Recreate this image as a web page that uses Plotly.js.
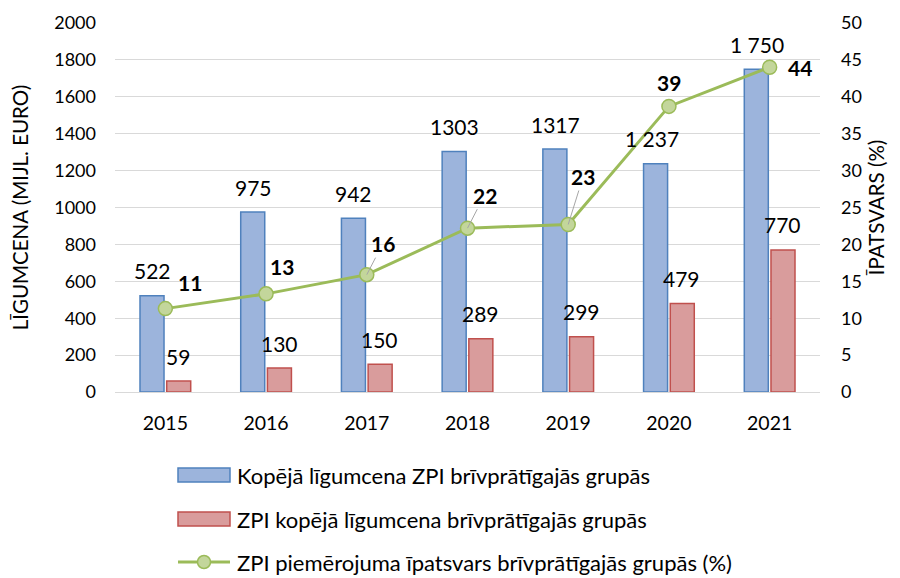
<!DOCTYPE html>
<html>
<head>
<meta charset="utf-8">
<script src="https://cdn.plot.ly/plotly-3.0.1.min.js"></script>
<style>html,body{margin:0;padding:0;background:#fff;}#chart{width:900px;height:578px;}</style>
</head>
<body>
<div id="chart"></div>
<script>
// ---- data ----
const years = ['2015', '2016', '2017', '2018', '2019', '2020', '2021'];
const totalValue = [522, 975, 942, 1303, 1317, 1237, 1750];
const totalLabels = ['522', '975', '942', '1303', '1317', '1 237', '1 750'];
const zpiValue = [59, 130, 150, 289, 299, 479, 770];
const zpiLabels = ['59', '130', '150', '289', '299', '479', '770'];
const sharePct = [11.3, 13.3, 15.9, 22.2, 22.7, 38.7, 44.0];
const shareLabels = ['11', '13', '16', '22', '23', '39', '44'];
const seriesNames = [
  'Kopējā līgumcena ZPI brīvprātīgajās grupās',
  'ZPI kopējā līgumcena brīvprātīgajās grupās',
  'ZPI piemērojuma īpatsvars brīvprātīgajās grupās (%)'
];
const leftTicks = [0, 200, 400, 600, 800, 1000, 1200, 1400, 1600, 1800, 2000];
const rightTicks = [0, 5, 10, 15, 20, 25, 30, 35, 40, 45, 50];
const leftTitle = 'LĪGUMCENA (MIJL. EURO)';
const rightTitle = 'ĪPATSVARS (%)';

// ---- styling / layout ----
const FONT = 'Lato, "Open Sans", sans-serif';
const BLUE_FILL = '#9cb4dc', BLUE_LINE = '#4f81bd';
const RED_FILL = '#d99c9c', RED_LINE = '#c0504d';
const GREEN = '#9bbb59', GREEN_FILL = '#c3d69b';
const L = 115, R = 80, T = 23, B = 186, W = 900, H = 578;
const PW = W - L - R, PH = H - T - B;
const px = x => (x - L) / PW;
const py = y => (H - B - y) / PH;
const LABEL_SIZE = 21, LEGEND_SIZE = 22, TICK_SIZE = 18, XTICK_SIZE = 19.5, TITLE_SIZE = 20.5;

// label offsets for the percentage labels [xshift, yshift, leader]
const shareOffsets = [[25, 26, false], [16, 27, false], [16, 31, true], [17, 33, true], [15, 48, true], [0, 24, false], [30, 0, false]];
const totalXShift = [-13, -13, -13, -13, -13, -17, -13];

const traces = [
  {type: 'bar', x: years, y: totalValue, name: seriesNames[0], showlegend: false,
   marker: {color: BLUE_FILL, line: {color: BLUE_LINE, width: 1.5}}, hoverinfo: 'skip'},
  {type: 'bar', x: years, y: zpiValue, name: seriesNames[1], showlegend: false,
   marker: {color: RED_FILL, line: {color: RED_LINE, width: 1.5}}, hoverinfo: 'skip'},
  {type: 'scatter', mode: 'lines+markers', x: years, y: sharePct, yaxis: 'y2', name: seriesNames[2], showlegend: false,
   line: {color: GREEN, width: 3}, marker: {size: 14, color: GREEN_FILL, line: {color: GREEN, width: 1.5}}, hoverinfo: 'skip'}
];

const annotations = [];
years.forEach((yr, i) => {
  annotations.push({x: i, y: totalValue[i], xref: 'x', yref: 'y', text: totalLabels[i], showarrow: false,
    xshift: totalXShift[i], yshift: 25, yanchor: 'middle', font: {family: FONT, size: LABEL_SIZE, color: '#000'}});
  annotations.push({x: i, y: zpiValue[i], xref: 'x', yref: 'y', text: zpiLabels[i], showarrow: false,
    xshift: 13, yshift: 25, yanchor: 'middle', font: {family: FONT, size: LABEL_SIZE, color: '#000'}});
  const o = shareOffsets[i];
  if (o[2]) {
    annotations.push({x: i, y: sharePct[i], xref: 'x', yref: 'y2', text: '<b>' + shareLabels[i] + '</b>',
      showarrow: true, arrowhead: 0, arrowwidth: 1, arrowcolor: '#a6a6a6', ax: o[0], ay: -o[1], standoff: 0,
      font: {family: FONT, size: LABEL_SIZE, color: '#000'}});
  } else {
    annotations.push({x: i, y: sharePct[i], xref: 'x', yref: 'y2', text: '<b>' + shareLabels[i] + '</b>',
      showarrow: false, xshift: o[0], yshift: o[1], yanchor: 'middle',
      font: {family: FONT, size: LABEL_SIZE, color: '#000'}});
  }
});

// custom legend
const shapes = [];
const legendY = [475, 519, 562];
const symX0 = 178, symX1 = 230, textX = 235;
shapes.push({type: 'rect', xref: 'paper', yref: 'paper', x0: px(symX0), x1: px(symX1), y0: py(legendY[0] + 7), y1: py(legendY[0] - 7),
  fillcolor: BLUE_FILL, line: {color: BLUE_LINE, width: 1.5}});
shapes.push({type: 'rect', xref: 'paper', yref: 'paper', x0: px(symX0), x1: px(symX1), y0: py(legendY[1] + 7), y1: py(legendY[1] - 7),
  fillcolor: RED_FILL, line: {color: RED_LINE, width: 1.5}});
shapes.push({type: 'line', xref: 'paper', yref: 'paper', x0: px(symX0), x1: px(symX1), y0: py(legendY[2]), y1: py(legendY[2]),
  line: {color: GREEN, width: 3}});
shapes.push({type: 'circle', xref: 'paper', yref: 'paper', x0: px(204 - 6.5), x1: px(204 + 6.5), y0: py(legendY[2] + 6.5), y1: py(legendY[2] - 6.5),
  fillcolor: GREEN_FILL, line: {color: GREEN, width: 1.5}});
seriesNames.forEach((n, i) => {
  annotations.push({xref: 'paper', yref: 'paper', x: px(textX), y: py(legendY[i]), xanchor: 'left', yanchor: 'middle',
    text: n, showarrow: false, font: {family: FONT, size: LEGEND_SIZE, color: '#000'}});
});

const layout = {
  width: W, height: H,
  margin: {l: L, r: R, t: T, b: B, pad: 0},
  paper_bgcolor: '#fff', plot_bgcolor: '#fff',
  font: {family: FONT, size: 18, color: '#000'},
  barmode: 'group', bargap: 0.47, bargroupgap: 0.1,
  showlegend: false,
  xaxis: {type: 'category', range: [-0.5, 6.5], showgrid: false, showline: true, linecolor: '#d9d9d9', linewidth: 1,
    ticks: '', ticklabelstandoff: 14, tickfont: {family: FONT, size: XTICK_SIZE, color: '#000'}, fixedrange: true},
  yaxis: {range: [0, 2000], tickvals: leftTicks, ticktext: leftTicks.map(String), showgrid: true, gridcolor: '#d9d9d9', gridwidth: 1,
    zeroline: false, showline: false, ticks: '', ticklabelstandoff: 18, tickfont: {family: FONT, size: TICK_SIZE, color: '#000'},
    title: {text: leftTitle, standoff: 20, font: {family: FONT, size: TITLE_SIZE, color: '#000'}}},
  yaxis2: {range: [0, 50], overlaying: 'y', side: 'right', tickvals: rightTicks, ticktext: rightTicks.map(String), showgrid: false,
    zeroline: false, showline: false, ticks: '', ticklabelstandoff: 20, tickfont: {family: FONT, size: TICK_SIZE, color: '#000'},
    title: {text: rightTitle, standoff: 8, font: {family: FONT, size: TITLE_SIZE, color: '#000'}}},
  annotations: annotations,
  shapes: shapes
};

Plotly.newPlot('chart', traces, layout, {displayModeBar: false, staticPlot: true});
</script>
</body>
</html>
